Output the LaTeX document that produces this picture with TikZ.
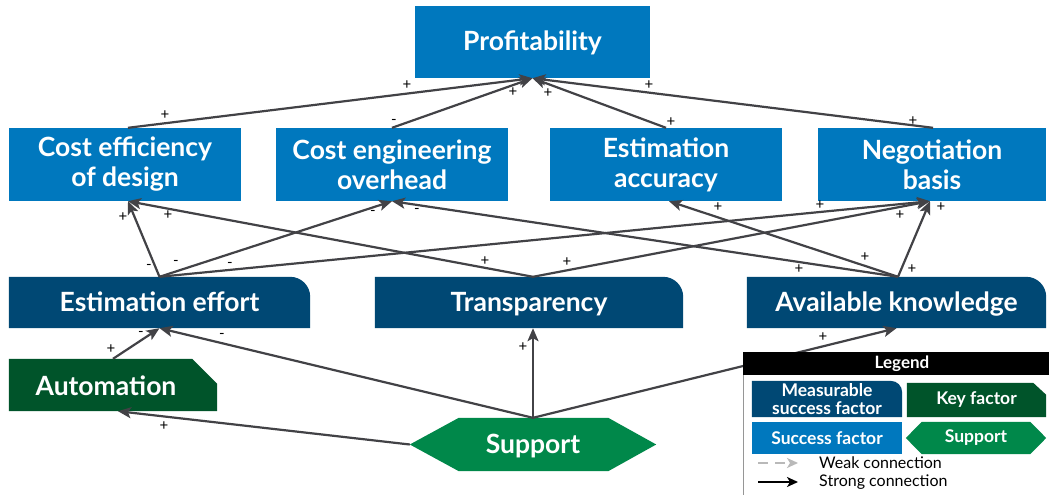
\documentclass[tikz,border=0pt]{standalone}
\usepackage{fontspec}
\setmainfont{Lato}
\usetikzlibrary{arrows.meta,backgrounds}
\definecolor{sblue}{RGB}{0,120,190}
\definecolor{mblue}{RGB}{0,72,116}
\definecolor{kgreen}{RGB}{0,84,42}
\definecolor{sgreen}{RGB}{0,136,74}
\definecolor{arrc}{RGB}{66,66,70}
\definecolor{legline}{RGB}{150,150,150}
\tikzset{
  fbox/.style={inner sep=0pt, text=white, font=\bfseries\fontsize{26.5}{30}\selectfont, align=center},
  oneline/.style={text height=19pt, text depth=2pt},
  lbox/.style={inner sep=0pt, text=white, font=\bfseries\fontsize{17.5}{18}\selectfont, align=center},
  arr/.style={draw=arrc, line width=2.2pt, -{Stealth[length=13pt,width=11pt,inset=3pt]}},
  sgn/.style={font=\fontsize{15}{15}\selectfont, inner sep=0pt},
  ltext/.style={font=\fontsize{16}{16}\selectfont, inner sep=0pt, anchor=west},
}
\begin{document}
\begin{tikzpicture}[x=1pt,y=-1pt]
\useasboundingbox (0,0) rectangle (1049,495);
\begin{scope}[on background layer]
\fill[white] (0,0) rectangle (1049,495);
\end{scope}
% nodes
\node[fbox, oneline, fill=sblue, minimum width=235pt, minimum height=72pt] (prof) at (532.5,42) {Profitability};
\node[fbox, fill=sblue, minimum width=232pt, minimum height=73pt] (ce) at (125,164.5) {Cost efficiency\\of design};
\node[fbox, fill=sblue, minimum width=232pt, minimum height=73pt] (coe) at (392,164.5) {Cost engineering\\overhead};
\node[fbox, fill=sblue, minimum width=232pt, minimum height=73pt] (ea) at (666,164.5) {Estimation\\accuracy};
\node[fbox, fill=sblue, minimum width=228pt, minimum height=73pt] (nb) at (932,164.5) {Negotiation\\basis};
\node[fbox, oneline, minimum width=301pt, minimum height=51pt] (ee) at (159.5,302.5) {Estimation effort};
\node[fbox, oneline, minimum width=308pt, minimum height=51pt] (tr) at (529,302.5) {Transparency};
\node[fbox, oneline, minimum width=299pt, minimum height=51pt] (ak) at (896.5,302.5) {Available knowledge};
\node[fbox, oneline, minimum width=208pt, minimum height=52pt] (auto) at (113,385) {\raisebox{-2pt}{\hspace*{-14pt}Automation}};
\node[fbox, oneline, minimum width=246pt, minimum height=53pt] (sup) at (533,444.5) {Support};
\begin{scope}[on background layer]
\foreach \n in {ee,tr,ak}{
  \fill[mblue] (\n.south west) -- (\n.north west) -- ([xshift=-20pt]\n.north east)
    .. controls ([xshift=-9pt]\n.north east) and ([yshift=-9pt]\n.north east) .. ([yshift=-20pt]\n.north east)
    -- (\n.south east) -- cycle;
}
\fill[kgreen] (auto.south west) -- (auto.north west) -- ([xshift=-25pt]auto.north east) -- ([yshift=-25pt]auto.north east) -- (auto.south east) -- cycle;
\fill[sgreen] (sup.west) -- ([xshift=49pt]sup.north west) -- ([xshift=-48pt]sup.north east) -- (sup.east) -- ([xshift=-48pt]sup.south east) -- ([xshift=49pt]sup.south west) -- cycle;
\end{scope}
% edges to profitability
\draw[arr] ([xshift=3pt]ce.north) -- (prof.south);
\draw[arr] (coe.north) -- (prof.south);
\draw[arr] (ea.north) -- (prof.south);
\draw[arr] ([xshift=1pt]nb.north) -- (prof.south);
% level 2 to level 1
\draw[arr] (ee.north) -- ([xshift=3pt]ce.south);
\draw[arr] (ee.north) -- (coe.south);
\draw[arr] (ee.north) -- ([xshift=-2pt]nb.south);
\draw[arr] ([xshift=4pt]tr.north) -- ([xshift=3pt]ce.south);
\draw[arr] ([xshift=4pt]tr.north) -- ([xshift=-2pt]nb.south);
\draw[arr] ([xshift=1.5pt]ak.north) -- (coe.south);
\draw[arr] ([xshift=1.5pt]ak.north) -- ([xshift=3pt]ea.south);
\draw[arr] ([xshift=1.5pt]ak.north) -- ([xshift=-2pt]nb.south);
% level 3
\draw[arr] (auto.north) -- (ee.south);
\draw[arr] (sup.north) -- (ee.south);
\draw[arr] (sup.north) -- (tr.south -| sup.north);
\draw[arr] (sup.north) -- (ak.south);
\draw[arr] (sup.west) -- ([xshift=5pt]auto.south);
% signs
\node[sgn] (s1a) at (165,115) {+};
\node[sgn] (s1b) at (407,85) {+};
\node[sgn] (s2a) at (394,122) {-};
\node[sgn] (s2b) at (513,92) {+};
\node[sgn] (s3a) at (671,122) {+};
\node[sgn] (s3b) at (548,93) {+};
\node[sgn] (s4a) at (913,121) {+};
\node[sgn] (s4b) at (649,85) {+};
\node[sgn] (s5a) at (149,267) {-};
\node[sgn] (s5b) at (123,217) {+};
\node[sgn] (s6a) at (176,263) {-};
\node[sgn] (s6b) at (373,213) {-};
\node[sgn] (s7a) at (230,265) {-};
\node[sgn] (s7b) at (820,205) {+};
\node[sgn] (s8a) at (485,261) {+};
\node[sgn] (s8b) at (168,215) {+};
\node[sgn] (s9a) at (567,262) {+};
\node[sgn] (s9b) at (900,215) {+};
\node[sgn] (s10a) at (799,269) {+};
\node[sgn] (s10b) at (417,211) {-};
\node[sgn] (s11a) at (865,257) {+};
\node[sgn] (s11b) at (718,207) {+};
\node[sgn] (s12a) at (912,269) {+};
\node[sgn] (s12b) at (941,207) {+};
\node[sgn] (s13a) at (111,349) {+};
\node[sgn] (s13b) at (141,334) {-};
\node[sgn] (s14) at (222,336) {-};
\node[sgn] (s15) at (523,347) {+};
\node[sgn] (s16) at (823,337) {+};
\node[sgn] (s17) at (164,426) {+};
% legend
\fill[white] (743,375) rectangle (1060,497);
\draw[legline, line width=1pt] (743,375) -- (743,497);
\node[inner sep=0pt, fill=black, text=white, font=\bfseries\fontsize{17}{17}\selectfont, minimum width=318pt, minimum height=23pt] (lhead) at (902,363.5) {Legend};
\node[lbox, minimum width=150pt, minimum height=36pt] (lm) at (827,399) {Measurable\\success factor};
\node[lbox, minimum width=139pt, minimum height=34pt] (lk) at (976.5,400) {Key factor};
\node[lbox, fill=sblue, minimum width=150pt, minimum height=32pt] (ls) at (827,438) {Success factor};
\node[lbox, minimum width=140pt, minimum height=32pt] (lsu) at (976,438) {Support};
\fill[mblue] (lm.south west) -- (lm.north west) -- ([xshift=-12pt]lm.north east)
  .. controls ([xshift=-5pt]lm.north east) and ([yshift=-5pt]lm.north east) .. ([yshift=-12pt]lm.north east)
  -- (lm.south east) -- cycle;
\fill[kgreen] (lk.south west) -- (lk.north west) -- ([xshift=-13pt]lk.north east) -- ([yshift=-12pt]lk.north east) -- (lk.south east) -- cycle;
\fill[sgreen] (lsu.west) -- ([xshift=16pt]lsu.north west) -- ([xshift=-16pt]lsu.north east) -- (lsu.east) -- ([xshift=-16pt]lsu.south east) -- ([xshift=16pt]lsu.south west) -- cycle;
\node[lbox] (lmt) at (lm.center) {Measurable\\success factor};
\node[lbox] (lkt) at (lk.center) {Key factor};
\node[lbox] (lsut) at (lsu.center) {Support};
\coordinate (w1) at (758,463);
\coordinate (w2) at (798,463);
\coordinate (k1) at (758,482);
\coordinate (k2) at (798,482);
\draw[draw={rgb,255:red,185;green,185;blue,185}, line width=1.8pt, dash pattern=on 10pt off 7pt, -{Stealth[length=11pt,width=10pt,inset=3pt]}] (w1) -- (w2);
\draw[draw=black, line width=1.8pt, -{Stealth[length=11pt,width=10pt,inset=3pt]}] (k1) -- (k2);
\node[ltext] (lw) at (819,463) {Weak connection};
\node[ltext] (lst) at (819,482) {Strong connection};
\end{tikzpicture}
\end{document}
